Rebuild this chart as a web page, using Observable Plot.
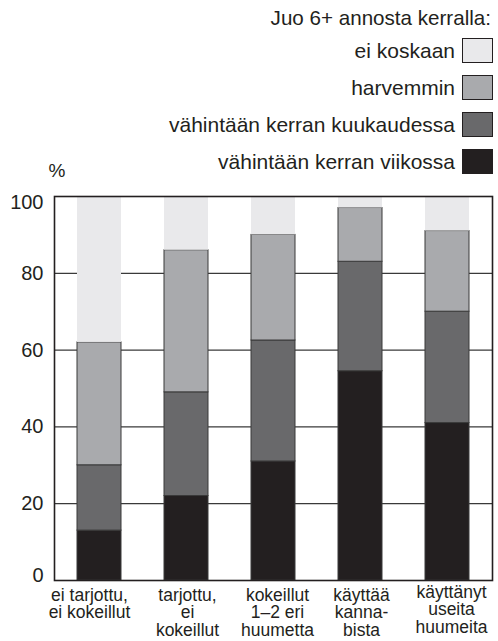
<!DOCTYPE html>
<html>
<head>
<meta charset="utf-8">
<script src="https://cdn.jsdelivr.net/npm/d3@7"></script>
<script src="https://cdn.jsdelivr.net/npm/@observablehq/plot@0.6"></script>
<style>
  html, body { margin: 0; padding: 0; background: #fff; }
  #wrap { position: relative; width: 498px; height: 641px; font-family: "Liberation Sans", Arial, sans-serif; color: #231f20; }
  #legend { position: absolute; left: 0; top: 0; width: 498px; height: 190px; pointer-events: none; }
  .ltitle { position: absolute; right: 7px; top: 6px; font-size: 20.6px; line-height: 24px; white-space: nowrap; }
  .ltext { position: absolute; right: 43px; font-size: 21px; line-height: 25px; white-space: nowrap; }
  .lsw { position: absolute; left: 462px; width: 29px; height: 23px; border: 1px solid #231f20; }
  svg { display: block; }
</style>
</head>
<body>
<div id="wrap">
  <div id="chart"></div>
  <div id="legend"></div>
</div>
<script>
const categories = [
  "ei tarjottu,\nei kokeillut",
  "tarjottu,\nei\nkokeillut",
  "kokeillut\n1–2 eri\nhuumetta",
  "käyttää\nkanna-\nbista",
  "käyttänyt\nuseita\nhuumeita"
];
const series = [
  "vähintään kerran viikossa",
  "vähintään kerran kuukaudessa",
  "harvemmin",
  "ei koskaan"
];
const colors = ["#231f20", "#69696b", "#a9aaad", "#e9e9eb"];
const viikossa    = [13, 22, 31, 54.5, 41];
const kuukaudessa = [17, 27, 31.5, 28.5, 29];
const harvemmin   = [32, 37, 27.5, 14, 21];
const eiKoskaan   = [38, 14, 10, 3, 9];
const yTicks = [0, 20, 40, 60, 80, 100];
const gridTicks = [20, 40, 60, 80];
const legendTitle = "Juo 6+ annosta kerralla:";
const yLabel = "%";

// small nudges of the category labels (layout only)
const labelDx = [-10, 1, 4, 1, 4];
const labelDy = [0, 0, 0, 0, -3];

const seriesValues = [viikossa, kuukaudessa, harvemmin, eiKoskaan];
const table = [];
categories.forEach((c, i) => {
  let acc = 0;
  series.forEach((s, j) => {
    const v = seriesValues[j][i];
    table.push({cat: c, series: s, value: v, y1: acc, y2: acc + v});
    acc += v;
  });
});

const tickFont = 20;
const catFont = 17.5;

const chart = Plot.plot({
  width: 498,
  height: 641,
  marginTop: 196,
  marginBottom: 61,
  marginLeft: 54,
  marginRight: 6,
  style: {fontFamily: "Liberation Sans, Arial, sans-serif", color: "#231f20", background: "#fff"},
  x: {domain: categories, paddingInner: 0.5, paddingOuter: 0.25, label: null, axis: null},
  y: {domain: [0, 100], label: null, axis: null},
  color: {domain: series, range: colors},
  marks: [
    Plot.ruleY(gridTicks, {stroke: "#3a3a3a", strokeWidth: 1.2}),
    Plot.barY(table.filter(d => d.series !== "ei koskaan"), {x: "cat", y1: "y1", y2: "y2", fill: "series", stroke: "#3a3a3a", strokeWidth: 1}),
    Plot.barY(table.filter(d => d.series === "ei koskaan"), {x: "cat", y1: "y1", y2: "y2", fill: "series"}),
    Plot.frame({stroke: "#231f20", strokeWidth: 1.6}),
    Plot.axisY(yTicks.filter(t => t !== 0 && t !== 100), {tickSize: 0, tickPadding: 11, fontSize: tickFont, label: null}),
    Plot.axisY([100], {tickSize: 0, tickPadding: 11, fontSize: tickFont, label: null, dy: 6}),
    Plot.axisY([0], {tickSize: 0, tickPadding: 11, fontSize: tickFont, label: null, dy: -5}),
    ...categories.map((c, i) => Plot.text([c], {
      x: d => d,
      frameAnchor: "bottom",
      lineAnchor: "top",
      dy: 8 + labelDy[i],
      dx: labelDx[i],
      fontSize: catFont,
      lineHeight: 1.0,
      text: d => d
    })),
    Plot.text([yLabel], {frameAnchor: "top-left", dx: -6, dy: -20, lineAnchor: "bottom", fontSize: 19, text: d => d})
  ]
});
document.getElementById("chart").appendChild(chart);

const legend = document.getElementById("legend");
const t = document.createElement("div");
t.className = "ltitle";
t.textContent = legendTitle;
legend.appendChild(t);
const legendOrder = [3, 2, 1, 0];
legendOrder.forEach((j, k) => {
  const top = 38 + k * 37;
  const txt = document.createElement("div");
  txt.className = "ltext";
  txt.style.top = top + "px";
  txt.textContent = series[j];
  legend.appendChild(txt);
  const sw = document.createElement("div");
  sw.className = "lsw";
  sw.style.top = top + "px";
  sw.style.background = colors[j];
  legend.appendChild(sw);
});
</script>
</body>
</html>
